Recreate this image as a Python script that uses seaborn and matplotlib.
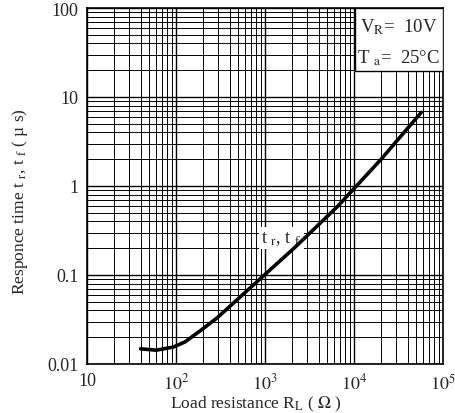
import numpy as np
import pandas as pd
import seaborn as sns
import matplotlib.pyplot as plt
from matplotlib.patches import Rectangle
from matplotlib.ticker import LogLocator, FixedLocator, FixedFormatter

# curve
load_res = [40, 60, 93, 126, 186, 290, 384, 902, 2154, 6610, 20270, 57100]
resp_time = [0.0148, 0.0143, 0.0155, 0.0177, 0.0235, 0.033, 0.0426, 0.0925, 0.203, 0.596, 2.01, 6.73]

x_ticks = [10, 1e2, 1e3, 1e4, 1e5]
x_labels = ["10", "$10^2$", "$10^3$", "$10^4$", "$10^5$"]
y_ticks = [0.01, 0.1, 1, 10, 100]
y_labels = ["0.01", "0.1", "1", "10", "100"]

sns.set_style("white")
plt.rcParams['font.family'] = ['Liberation Serif', 'DejaVu Serif']
plt.rcParams['mathtext.fontset'] = 'stix'

df = pd.DataFrame({"R": load_res, "t": resp_time})

fig = plt.figure(figsize=(4.56, 4.14), dpi=100)
ax = fig.add_axes([87 / 456, 49 / 414, 356 / 456, 356 / 414])

ax.set_xscale("log")
ax.set_yscale("log")
ax.set_xlim(10, 1e5)
ax.set_ylim(0.01, 100)

sns.lineplot(data=df, x="R", y="t", ax=ax, color="black", linewidth=2.6, zorder=5)

ax.xaxis.set_major_locator(FixedLocator(x_ticks))
ax.xaxis.set_major_formatter(FixedFormatter(x_labels))
ax.yaxis.set_major_locator(FixedLocator(y_ticks))
ax.yaxis.set_major_formatter(FixedFormatter(y_labels))
ax.xaxis.set_minor_locator(LogLocator(base=10, subs=np.arange(2, 10), numticks=20))
ax.yaxis.set_minor_locator(LogLocator(base=10, subs=np.arange(2, 10), numticks=20))
ax.tick_params(which="both", length=0, labelsize=13, pad=6)

ax.grid(which="major", color="black", linewidth=1.0)
ax.grid(which="minor", color="black", linewidth=0.7)
for s in ax.spines.values():
    s.set_color("black")
    s.set_linewidth(1.2)

ax.set_xlabel(r"Load resistance R$_\mathrm{L}$ ( $\Omega$ )", fontsize=12.5)
ax.set_ylabel(r"Responce time t $_\mathrm{r}$, t $_\mathrm{f}$ ( µ s)", fontsize=12.5)
ax.xaxis.set_label_coords(0.475, -0.085)
ax.yaxis.set_label_coords(-0.16, 0.46)

# condition box in the upper right corner
ax.add_patch(Rectangle((0.753, 0.823), 0.247, 0.177, transform=ax.transAxes,
                       facecolor="white", edgecolor="black", linewidth=1.0, zorder=6))
ax.text(0.876, 0.948, r"V$_\mathrm{R}$=  10V", transform=ax.transAxes,
        ha="center", va="center", fontsize=13.5, zorder=7)
ax.text(0.876, 0.862, r"T $_\mathrm{a}$=  25°C", transform=ax.transAxes,
        ha="center", va="center", fontsize=13.5, zorder=7)

ax.text(900, 0.26, r"t $_\mathrm{r}$, t $_\mathrm{f}$", fontsize=13, ha="left", va="center",
        zorder=4, bbox=dict(facecolor="white", edgecolor="none", pad=1.5))

fig.savefig("out.png", dpi=100)
